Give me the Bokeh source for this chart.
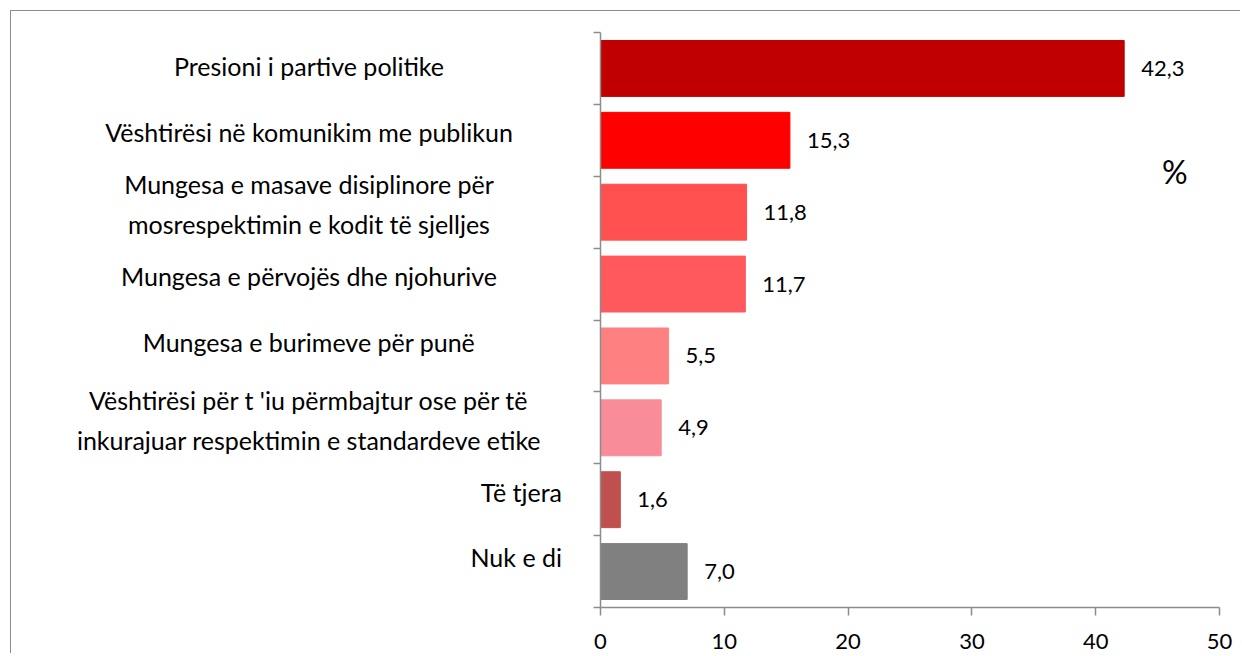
from bokeh.plotting import figure
from bokeh.layouts import row
from bokeh.models import ColumnDataSource, Range1d, FixedTicker, Label
from bokeh.embed import file_html
from bokeh.resources import INLINE
from bokeh.core.properties import value

# ---- data ----
categories = [
    "Presioni i partive politike",
    "Vështirësi në komunikim me publikun",
    "Mungesa e masave disiplinore për\nmosrespektimin e kodit të sjelljes",
    "Mungesa e përvojës dhe njohurive",
    "Mungesa e burimeve për punë",
    "Vështirësi për t 'iu përmbajtur ose për të\ninkurajuar respektimin e standardeve etike",
    "Të tjera",
    "Nuk e di",
]
values = [42.3, 15.3, 11.8, 11.7, 5.5, 4.9, 1.6, 7.0]
x_ticks = [0, 10, 20, 30, 40, 50]

# ---- styling ----
colors = ["#C00000", "#FF0000", "#FF5050", "#FF595E", "#FF8080", "#F88C98", "#C0504D", "#808080"]
label_dy_px = [-2, -8, -8, -8, -14, -8, -8, -15]   # vertical nudge of category labels
right_aligned = [False, False, False, False, False, False, True, True]
FONT = "Lato"
BAND_PX = 72.0
BORDER = "1.5px solid #8c8c8c"
H = 643
TOP, BOTTOM = 21, 47
WL = 560

n = len(categories)
ypos = [i + 0.5 for i in range(n)]
value_text = [f"{v:.1f}".replace(".", ",") for v in values]
yr = Range1d(n, 0)

# ---- left panel: category labels ----
left = figure(width=WL, height=H, x_range=Range1d(0, WL), y_range=yr,
              output_backend="svg", toolbar_location=None,
              x_axis_location=None, y_axis_location=None,
              min_border_left=0, min_border_right=0, min_border_top=TOP, min_border_bottom=BOTTOM)
left.margin = (10, 0, 0, 10)
left.styles = {"border-top": BORDER, "border-left": BORDER}
left.outline_line_color = None
left.grid.visible = False

for right_al, xs, align in ((False, 297.5, "center"), (True, 550.5, "right")):
    idx = [i for i in range(n) if right_aligned[i] == right_al]
    s = ColumnDataSource(dict(
        x=[xs] * len(idx),
        y=[ypos[i] + label_dy_px[i] / BAND_PX for i in idx],
        t=[categories[i] for i in idx],
    ))
    left.text(x="x", y="y", text="t", source=s, text_align=align, text_baseline="middle",
              text_font=value(FONT), text_font_size="25px", text_color="black",
              text_line_height=1.35)

# ---- right panel: bars ----
src = ColumnDataSource(dict(y=ypos, v=values, c=colors, t=value_text))

p = figure(width=670, height=H, x_range=Range1d(0, 50), y_range=yr,
           output_backend="svg", toolbar_location=None,
           min_border_left=30, min_border_right=21, min_border_top=TOP, min_border_bottom=BOTTOM)
p.margin = (10, 0, 0, 0)
p.styles = {"border-top": BORDER}
p.outline_line_color = None
p.grid.visible = False

p.hbar(y="y", right="v", left=0, height=56 / BAND_PX, color="c", source=src)
p.text(x="v", y="y", text="t", source=src, x_offset=17, text_align="left",
       text_baseline="middle", text_font=value(FONT), text_font_size="22px", text_color="black")

p.add_layout(Label(x=46.4, y=1.94, text="%", text_align="center", text_baseline="middle",
                   text_font=FONT, text_font_size="32px", text_color="black"))

ax = p.xaxis[0]
ax.ticker = FixedTicker(ticks=x_ticks)
ax.axis_line_color = "#8c8c8c"
ax.axis_line_width = 1.5
ax.major_tick_line_color = "#8c8c8c"
ax.major_tick_line_width = 1.5
ax.major_tick_out = 8
ax.major_tick_in = 0
ax.minor_tick_line_color = None
ax.major_label_standoff = 18
ax.major_label_text_font = FONT
ax.major_label_text_font_size = "22px"
ax.major_label_text_color = "black"

ay = p.yaxis[0]
ay.ticker = FixedTicker(ticks=list(range(n + 1)))
ay.axis_line_color = "#8c8c8c"
ay.axis_line_width = 1.5
ay.major_tick_line_color = "#8c8c8c"
ay.major_tick_line_width = 1.5
ay.major_tick_out = 7
ay.major_tick_in = 0
ay.minor_tick_line_color = None
ay.major_label_text_font_size = "0px"
ay.major_label_text_alpha = 0

layout = row(left, p, spacing=0)
open("out.html", "w").write(file_html(layout, INLINE))
